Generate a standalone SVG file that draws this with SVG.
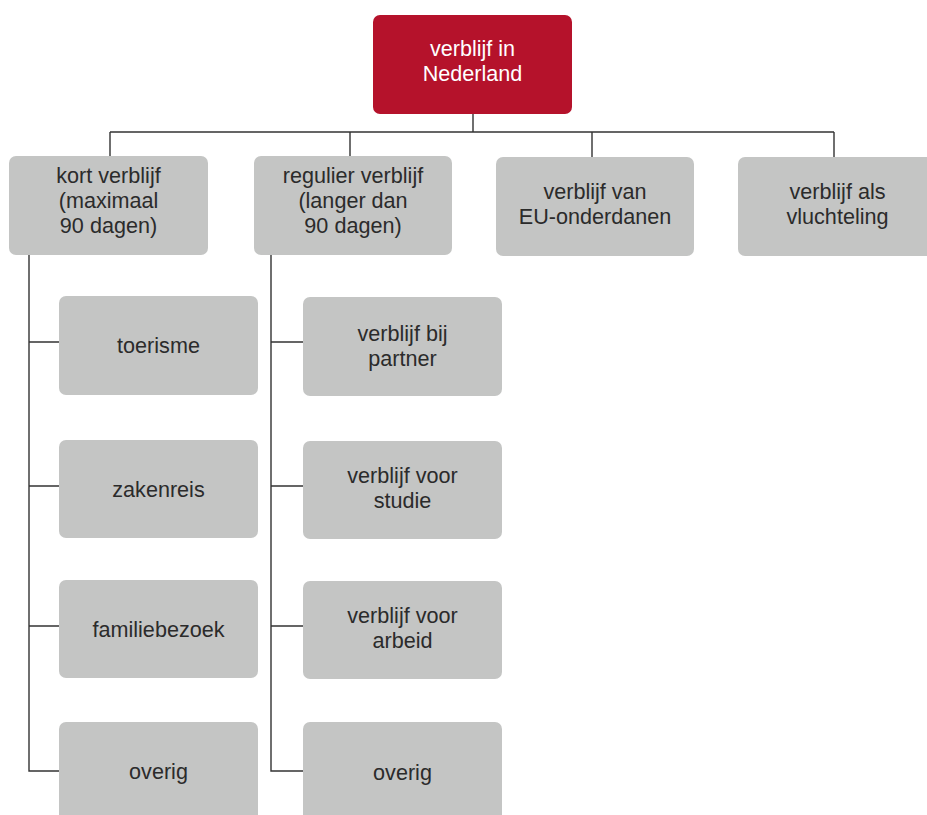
<svg xmlns="http://www.w3.org/2000/svg" width="927" height="815" viewBox="0 0 927 815">
<style>
.box{fill:#C4C5C4}
.root{fill:#B5122B}
.t{font-family:"Liberation Sans",Arial,sans-serif;font-size:21.6px;fill:#2B2B2B;text-anchor:middle}
.tw{font-family:"Liberation Sans",Arial,sans-serif;font-size:21.6px;fill:#FFFFFF;text-anchor:middle}
.ln{fill:none;stroke:#333333;stroke-width:1.4}
</style>
<rect width="927" height="815" fill="#FFFFFF"/>
<g id="connectors">
<path class="ln" d="M473 114V132M110 132H834M110 132V156M350 132V156M592 132V157M834 132V157"/>
<path class="ln" d="M29 255V771H59M29 342H59M29 486H59M29 626H59"/>
<path class="ln" d="M271 255V771H303M271 342H303M271 486H303M271 626H303"/>
</g>
<g id="root"><rect class="root" x="373" y="15" width="199" height="99" rx="7"/><text class="tw" x="472.5" y="56">verblijf in</text><text class="tw" x="472.5" y="81">Nederland</text></g>
<g id="kort"><rect class="box" x="9" y="156" width="199" height="99" rx="7"/><text class="t" x="108.5" y="183">kort verblijf</text><text class="t" x="108.5" y="208">(maximaal</text><text class="t" x="108.5" y="233">90 dagen)</text></g>
<g id="regulier"><rect class="box" x="254" y="156" width="198" height="99" rx="7"/><text class="t" x="353" y="183">regulier verblijf</text><text class="t" x="353" y="208">(langer dan</text><text class="t" x="353" y="233">90 dagen)</text></g>
<g id="eu"><rect class="box" x="496" y="157" width="198" height="99" rx="7"/><text class="t" x="595" y="199">verblijf van</text><text class="t" x="595" y="224">EU-onderdanen</text></g>
<g id="vlucht"><rect class="box" x="738" y="157" width="199" height="99" rx="7"/><text class="t" x="837.5" y="199">verblijf als</text><text class="t" x="837.5" y="224">vluchteling</text></g>
<g id="toerisme"><rect class="box" x="59" y="296" width="199" height="99" rx="7"/><text class="t" x="158.5" y="353">toerisme</text></g>
<g id="zakenreis"><rect class="box" x="59" y="440" width="199" height="98" rx="7"/><text class="t" x="158.5" y="497">zakenreis</text></g>
<g id="familiebezoek"><rect class="box" x="59" y="580" width="199" height="98" rx="7"/><text class="t" x="158.5" y="637">familiebezoek</text></g>
<g id="overig1"><rect class="box" x="59" y="722" width="199" height="110" rx="7"/><text class="t" x="158.5" y="779">overig</text></g>
<g id="partner"><rect class="box" x="303" y="297" width="199" height="99" rx="7"/><text class="t" x="402.5" y="341">verblijf bij</text><text class="t" x="402.5" y="366">partner</text></g>
<g id="studie"><rect class="box" x="303" y="441" width="199" height="98" rx="7"/><text class="t" x="402.5" y="483">verblijf voor</text><text class="t" x="402.5" y="508">studie</text></g>
<g id="arbeid"><rect class="box" x="303" y="581" width="199" height="98" rx="7"/><text class="t" x="402.5" y="623">verblijf voor</text><text class="t" x="402.5" y="648">arbeid</text></g>
<g id="overig2"><rect class="box" x="303" y="722" width="199" height="110" rx="7"/><text class="t" x="402.5" y="780">overig</text></g>
</svg>
